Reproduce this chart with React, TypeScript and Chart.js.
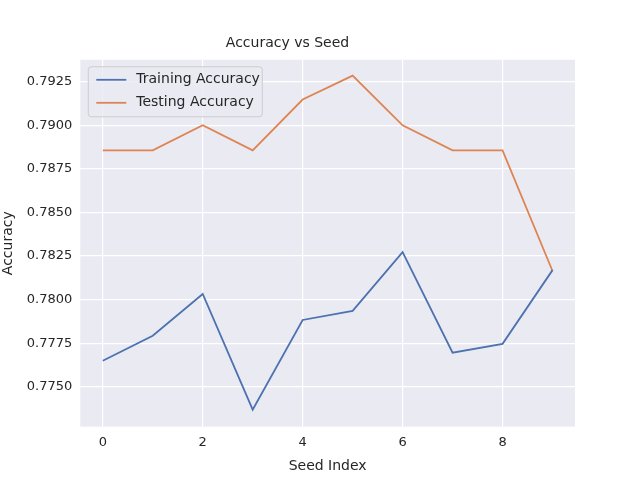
import React, { useEffect, useRef } from 'react';
import Chart from 'chart.js/auto';

const seeds = [0, 1, 2, 3, 4, 5, 6, 7, 8, 9];
const trainingAccuracy = [0.77649, 0.77792, 0.78032, 0.77368, 0.77883, 0.77935, 0.78272, 0.77695, 0.77746, 0.78169];
const testingAccuracy = [0.78856, 0.78856, 0.79, 0.78856, 0.79148, 0.79285, 0.79, 0.78856, 0.78856, 0.78164];
const yTicks = [0.775, 0.7775, 0.78, 0.7825, 0.785, 0.7875, 0.79, 0.7925];
const xTicks = [0, 2, 4, 6, 8];

const FONT = "'DejaVu Sans', sans-serif";
const BLUE = '#4c72b0';
const ORANGE = '#dd8452';

const bgPlugin = {
	id: 'bg',
	beforeDraw(chart: any) {
		const { ctx, chartArea: a } = chart;
		ctx.save();
		ctx.fillStyle = '#eaeaf2';
		ctx.fillRect(a.left, a.top, a.right - a.left, a.bottom - a.top);
		ctx.restore();
	},
};

const legendPlugin = {
	id: 'innerLegend',
	afterDatasetsDraw(chart: any) {
		const { ctx, chartArea: a } = chart;
		const x = a.left + 8;
		const y = a.top + 7;
		ctx.save();
		ctx.fillStyle = 'rgba(234,234,242,0.8)';
		ctx.strokeStyle = '#cccccc';
		ctx.lineWidth = 1;
		ctx.beginPath();
		ctx.roundRect(x, y, 174, 50, 3);
		ctx.fill();
		ctx.stroke();
		ctx.font = `14px ${FONT}`;
		ctx.textBaseline = 'middle';
		const items = [
			{ label: 'Training Accuracy', color: BLUE },
			{ label: 'Testing Accuracy', color: ORANGE },
		];
		items.forEach((it, i) => {
			const cy = y + 13 + i * 23;
			ctx.strokeStyle = it.color;
			ctx.lineWidth = 1.8;
			ctx.beginPath();
			ctx.moveTo(x + 8, cy);
			ctx.lineTo(x + 38, cy);
			ctx.stroke();
			ctx.fillStyle = '#262626';
			ctx.fillText(it.label, x + 48, cy);
		});
		ctx.restore();
	},
};

export default function App() {
	const canvasRef = useRef<HTMLCanvasElement | null>(null);

	useEffect(() => {
		document.body.style.margin = '0';
		const canvas = canvasRef.current;
		if (!canvas) return;
		const chart = new Chart(canvas, {
			type: 'line',
			data: {
				datasets: [
					{
						label: 'Training Accuracy',
						data: seeds.map((s, i) => ({ x: s, y: trainingAccuracy[i] })),
						borderColor: BLUE,
						borderWidth: 1.8,
						pointRadius: 0,
						tension: 0,
					},
					{
						label: 'Testing Accuracy',
						data: seeds.map((s, i) => ({ x: s, y: testingAccuracy[i] })),
						borderColor: ORANGE,
						borderWidth: 1.8,
						pointRadius: 0,
						tension: 0,
					},
				],
			},
			options: {
				animation: false,
				responsive: false,
				layout: { padding: { left: 0, right: 65, top: 0, bottom: 0 } },
				plugins: {
					legend: { display: false },
					tooltip: { enabled: false },
					title: {
						display: true,
						text: 'Accuracy vs Seed',
						color: '#262626',
						font: { family: FONT, size: 14, weight: 'normal' },
						padding: { top: 35, bottom: 8 },
					},
				},
				scales: {
					x: {
						type: 'linear',
						min: -0.45,
						max: 9.45,
						afterBuildTicks: (s: any) => {
							s.ticks = xTicks.map((v) => ({ value: v }));
						},
						grid: { color: '#ffffff', lineWidth: 1.2, drawTicks: false },
						border: { display: false },
						ticks: { color: '#262626', font: { family: FONT, size: 13 }, padding: 8 },
						title: {
							display: true,
							text: 'Seed Index',
							color: '#262626',
							font: { family: FONT, size: 14 },
							padding: { top: 0, bottom: 5 },
						},
					},
					y: {
						min: 0.77271,
						max: 0.79376,
						afterBuildTicks: (s: any) => {
							s.ticks = yTicks.map((v) => ({ value: v }));
						},
						grid: { color: '#ffffff', lineWidth: 1.2, drawTicks: false },
						border: { display: false },
						ticks: {
							color: '#262626',
							font: { family: FONT, size: 13 },
							padding: 8,
							callback: (v: any) => Number(v).toFixed(4),
						},
						title: {
							display: true,
							text: 'Accuracy',
							color: '#262626',
							font: { family: FONT, size: 14 },
							padding: { top: 0, bottom: 2 },
						},
					},
				},
			},
			plugins: [bgPlugin, legendPlugin],
		});
		return () => chart.destroy();
	}, []);

	return <canvas ref={canvasRef} width={640} height={480} style={{ display: 'block' }} />;
}
